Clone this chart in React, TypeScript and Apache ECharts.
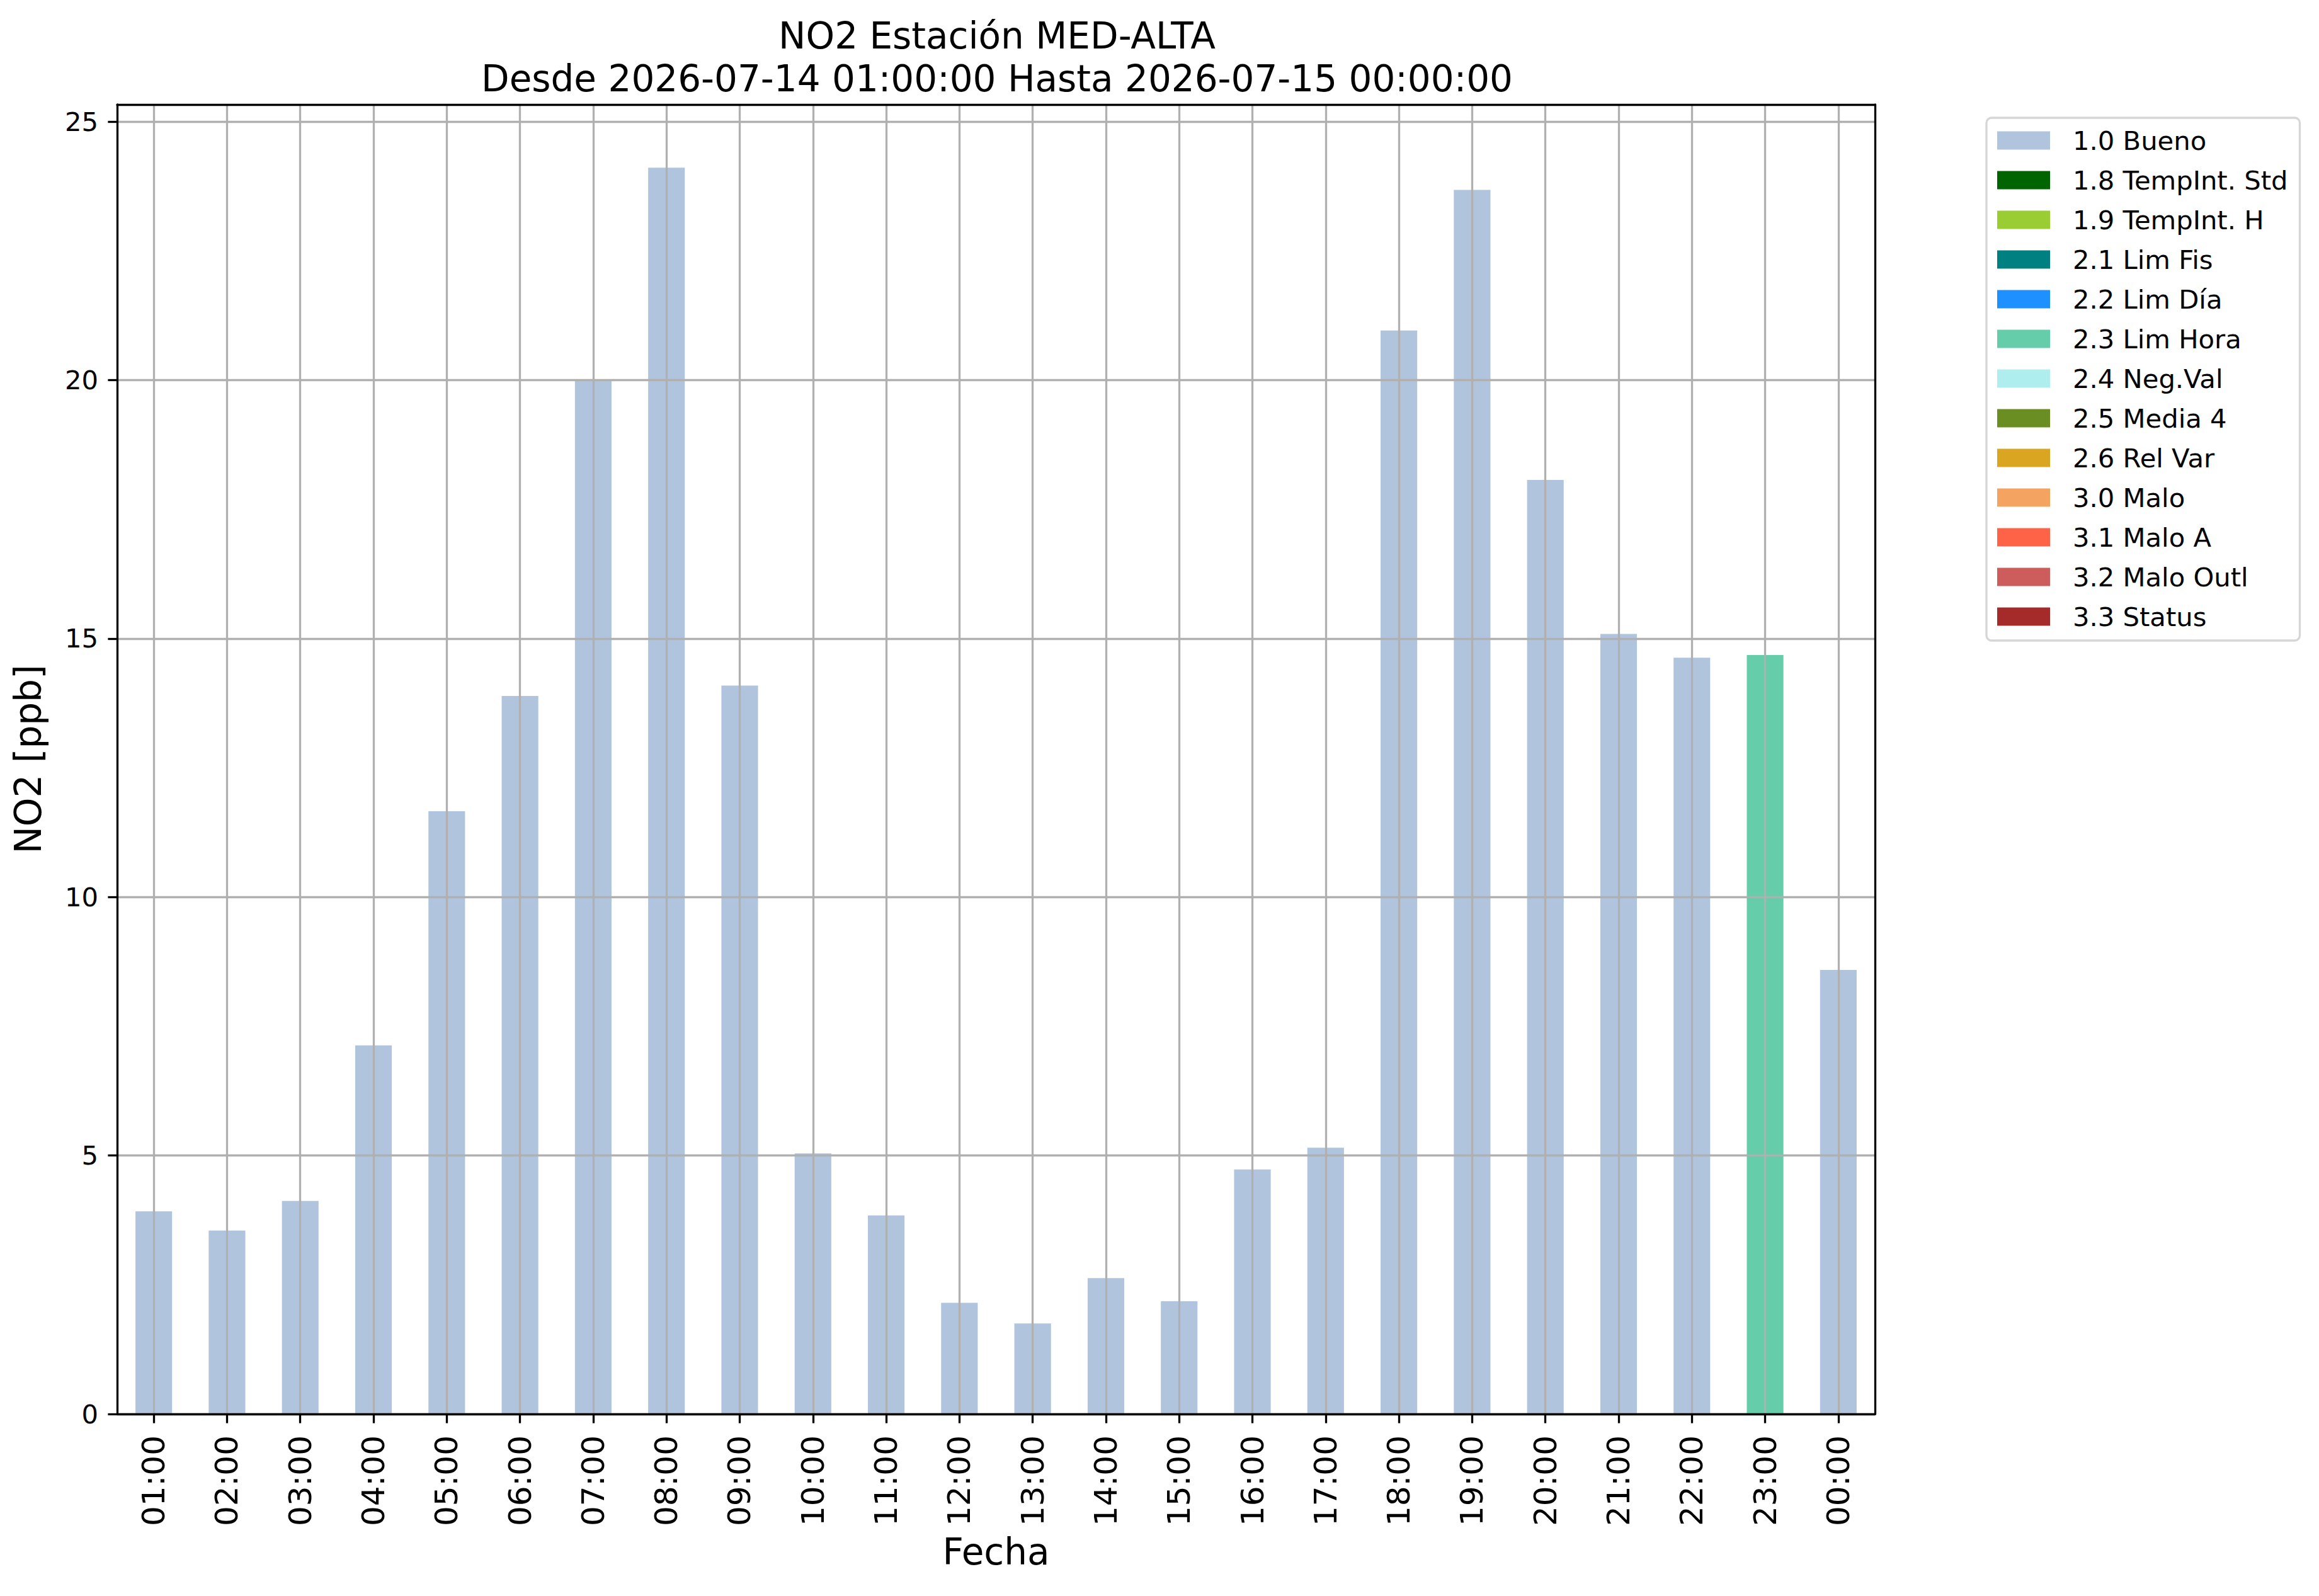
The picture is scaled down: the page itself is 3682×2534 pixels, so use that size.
import React, { useEffect, useRef } from "react";
import * as echarts from "echarts";

const hours = [
  "01:00", "02:00", "03:00", "04:00", "05:00", "06:00", "07:00", "08:00",
  "09:00", "10:00", "11:00", "12:00", "13:00", "14:00", "15:00", "16:00",
  "17:00", "18:00", "19:00", "20:00", "21:00", "22:00", "23:00", "00:00",
];

const no2Values = [
  3.92, 3.55, 4.12, 7.13, 11.66, 13.89, 19.99, 24.11,
  14.09, 5.04, 3.84, 2.15, 1.75, 2.63, 2.18, 4.73,
  5.15, 20.96, 23.68, 18.07, 15.09, 14.63, 14.68, 8.59,
];

// index into flagNames for each hour
const hourFlags = [
  0, 0, 0, 0, 0, 0, 0, 0,
  0, 0, 0, 0, 0, 0, 0, 0,
  0, 0, 0, 0, 0, 0, 5, 0,
];

const flagNames = [
  "1.0 Bueno", "1.8 TempInt. Std", "1.9 TempInt. H", "2.1 Lim Fis",
  "2.2 Lim Día", "2.3 Lim Hora", "2.4 Neg.Val", "2.5 Media 4",
  "2.6 Rel Var", "3.0 Malo", "3.1 Malo A", "3.2 Malo Outl", "3.3 Status",
];

const flagColors = [
  "#B0C4DE", "#006400", "#9ACD32", "#008080",
  "#1E90FF", "#66CDAA", "#AFEEEE", "#6B8E23",
  "#DAA520", "#F4A460", "#FF6347", "#CD5C5C", "#A52A2A",
];

const yTicks = [0, 5, 10, 15, 20, 25];
const yMax = 25.33;

const titleText =
  "NO2 Estación MED-ALTA\nDesde 2026-07-14 01:00:00 Hasta 2026-07-15 00:00:00";

export default function App() {
  const ref = useRef<HTMLDivElement>(null);

  useEffect(() => {
    if (!ref.current) return;
    const chart = echarts.init(ref.current, undefined, { renderer: "svg" });
    const font = "DejaVu Sans";
    const lw = 3.3;

    const series = flagNames.map((name, k) => ({
      name,
      type: "bar",
      stack: "flags",
      barWidth: "50%",
      itemStyle: { color: flagColors[k] },
      data: no2Values.map((v, i) => (hourFlags[i] === k ? v : "-")),
      z: 2,
    }));

    chart.setOption({
      animation: false,
      backgroundColor: "#ffffff",
      textStyle: { fontFamily: font, color: "#000" },
      title: {
        text: titleText,
        left: 1578,
        top: 18,
        textAlign: "center",
        textStyle: {
          fontFamily: font,
          fontSize: 58,
          fontWeight: "normal",
          color: "#000",
          lineHeight: 68,
        },
      },
      legend: {
        orient: "vertical",
        left: 3154,
        top: 187,
        icon: "rect",
        itemWidth: 84,
        itemHeight: 29,
        itemGap: 21,
        padding: [15, 19, 17, 17],
        borderColor: "#d6d6d6",
        borderWidth: lw,
        borderRadius: 8,
        backgroundColor: "rgba(255,255,255,0.8)",
        selectedMode: false,
        data: flagNames,
        textStyle: {
          fontFamily: font,
          fontSize: 41.7,
          color: "#000",
          padding: [0, 0, 0, 31],
        },
      },
      grid: {
        left: 186,
        top: 166,
        right: 705,
        bottom: 289,
        containLabel: false,
      },
      xAxis: [
        {
          type: "category",
          data: hours,
          z: 4,
          boundaryGap: true,
          axisLine: { show: true, lineStyle: { color: "#000", width: lw } },
          axisTick: {
            show: true,
            alignWithLabel: true,
            length: 14.6,
            lineStyle: { color: "#000", width: lw },
          },
          axisLabel: {
            rotate: 90,
            interval: 0,
            fontSize: 50,
            color: "#000",
            fontFamily: font,
            margin: 34,
          },
          splitLine: {
            show: true,
            alignWithLabel: true,
            lineStyle: { color: "#b0b0b0", width: lw },
          },
          name: "Fecha",
          nameLocation: "middle",
          nameGap: 190,
          nameTextStyle: { fontSize: 58, color: "#000", fontFamily: font },
        },
        {
          type: "category",
          data: hours,
          position: "top",
          z: 5,
          axisLine: {
            show: true,
            onZero: false,
            lineStyle: { color: "#000", width: lw },
          },
          axisTick: { show: false },
          axisLabel: { show: false },
          splitLine: { show: false },
        },
      ],
      yAxis: [
        {
          type: "value",
          min: 0,
          max: yMax,
          interval: 5,
          z: 3,
          axisLine: { show: true, lineStyle: { color: "#000", width: lw } },
          axisTick: {
            show: true,
            length: 14.6,
            customValues: yTicks,
            lineStyle: { color: "#000", width: lw },
          },
          axisLabel: {
            fontSize: 41.7,
            color: "#000",
            fontFamily: font,
            margin: 30,
            customValues: yTicks,
          },
          splitLine: { show: true, lineStyle: { color: "#b0b0b0", width: lw } },
          name: "NO2 [ppb]",
          nameLocation: "middle",
          nameGap: 112,
          nameTextStyle: { fontSize: 58, color: "#000", fontFamily: font },
        },
        {
          type: "value",
          min: 0,
          max: yMax,
          position: "right",
          z: 5,
          axisLine: {
            show: true,
            onZero: false,
            lineStyle: { color: "#000", width: lw },
          },
          axisTick: { show: false },
          axisLabel: { show: false },
          splitLine: { show: false },
        },
      ],
      series,
    });

    return () => chart.dispose();
  }, []);

  return (
    <div
      ref={ref}
      style={{
        position: "fixed",
        left: 0,
        top: 0,
        width: 3682,
        height: 2534,
        background: "#fff",
      }}
    />
  );
}
